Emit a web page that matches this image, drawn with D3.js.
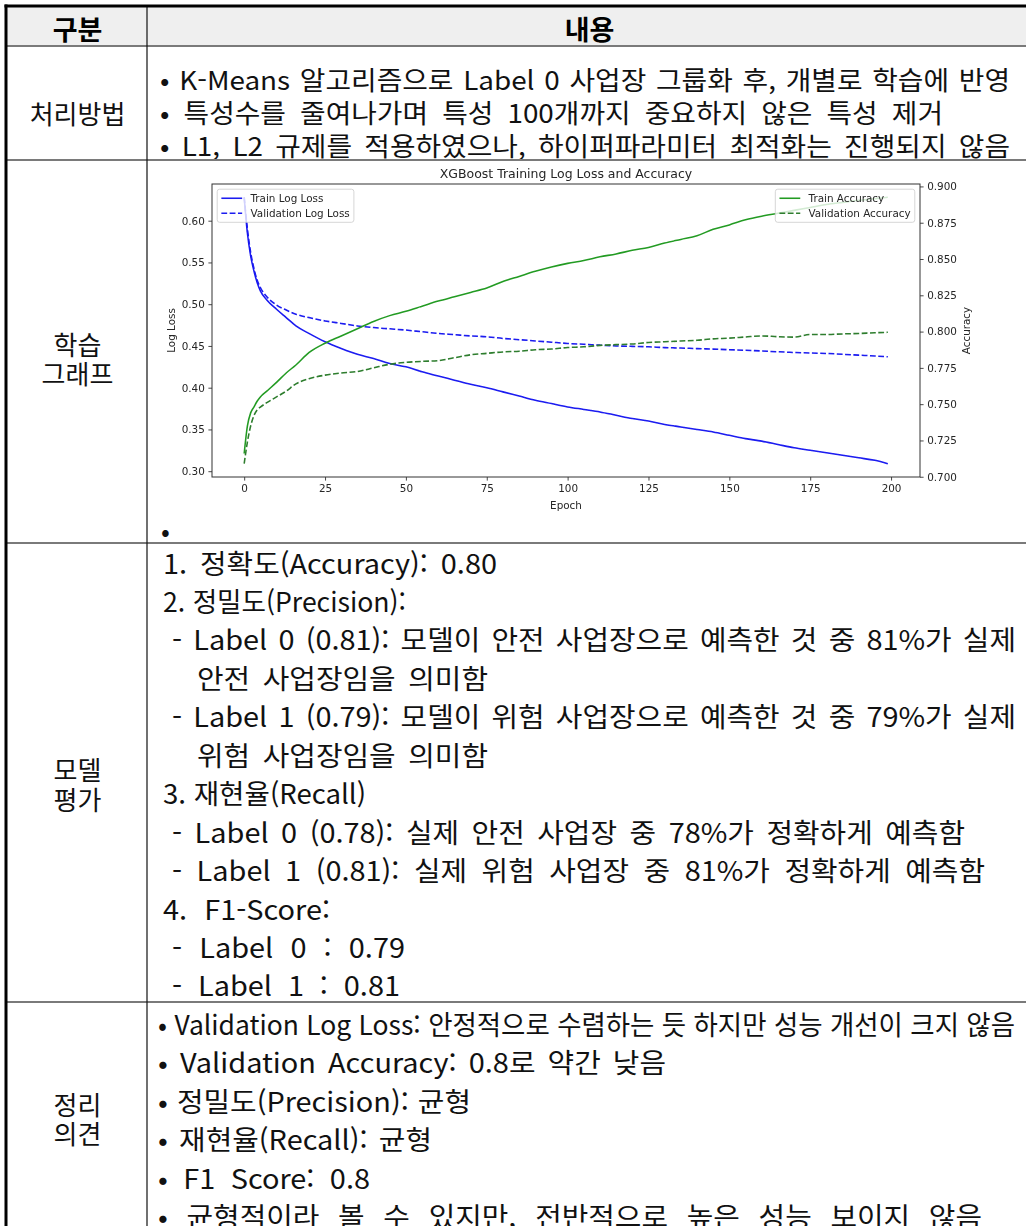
<!DOCTYPE html>
<html lang="ko">
<head>
<meta charset="utf-8">
<title>XGBoost 모델 결과 정리</title>
<script src="https://cdn.jsdelivr.net/npm/d3@7"></script>
<style>
  html, body { margin: 0; padding: 0; background: #ffffff; }
  svg { display: block; }
</style>
</head>
<body>
<svg id="page" width="1026" height="1226"></svg>
<script>
// ---------- chart data: XGBoost training history ----------
const epochs = [0, 1, 2, 3, 4, 5, 7, 10, 13, 16,
  20, 25, 30, 35, 40, 45, 50, 55, 60, 65, 70, 75, 80, 85, 90, 95, 100,
  105, 110, 115, 120, 125, 130, 135, 140, 145, 150, 155, 160, 165, 170,
  175, 180, 185, 190, 195, 199];

const trainLogLoss = [0.628, 0.585, 0.558, 0.540, 0.526, 0.516, 0.505, 0.494, 0.484, 0.474,
  0.465, 0.455, 0.447, 0.440, 0.435, 0.429, 0.425, 0.419, 0.414, 0.409, 0.404, 0.400, 0.395, 0.390, 0.385, 0.381, 0.377,
  0.374, 0.371, 0.367, 0.363, 0.360, 0.356, 0.353, 0.350, 0.347, 0.343, 0.339, 0.336, 0.332, 0.328,
  0.325, 0.322, 0.319, 0.316, 0.313, 0.309];

const valLogLoss = [0.628, 0.590, 0.562, 0.543, 0.529, 0.520, 0.509, 0.499, 0.493, 0.488,
  0.484, 0.480, 0.477, 0.474, 0.472, 0.4705, 0.469, 0.467, 0.465, 0.4635, 0.462, 0.461, 0.459, 0.4575, 0.456, 0.4545, 0.453,
  0.452, 0.451, 0.450, 0.4495, 0.449, 0.448, 0.4475, 0.4468, 0.4462, 0.4455, 0.4448, 0.444, 0.443, 0.4422,
  0.4415, 0.441, 0.440, 0.439, 0.438, 0.437];

const trainAccuracy = [0.716, 0.735, 0.744, 0.748, 0.752, 0.755, 0.759, 0.765, 0.7715, 0.777,
  0.7855, 0.792, 0.797, 0.802, 0.807, 0.811, 0.814, 0.8175, 0.821, 0.824, 0.827, 0.830, 0.8345, 0.838, 0.8415, 0.8445, 0.847,
  0.849, 0.8515, 0.8535, 0.856, 0.858, 0.861, 0.8635, 0.866, 0.8705, 0.8735, 0.877, 0.8795, 0.8815, 0.8835,
  0.8855, 0.8875, 0.889, 0.8905, 0.8915, 0.8925];

const valAccuracy = [0.709, 0.724, 0.735, 0.742, 0.746, 0.748, 0.751, 0.755, 0.759, 0.764,
  0.7675, 0.770, 0.7715, 0.7725, 0.775, 0.7775, 0.7788, 0.7795, 0.780, 0.782, 0.784, 0.785, 0.786, 0.7865, 0.7875, 0.788, 0.789,
  0.7895, 0.7905, 0.791, 0.7915, 0.7925, 0.793, 0.7935, 0.794, 0.795, 0.7955, 0.7963, 0.797, 0.7965, 0.7962,
  0.798, 0.798, 0.7984, 0.7987, 0.7992, 0.7995];

const epochTicks = [0, 25, 50, 75, 100, 125, 150, 175, 200];
const lossTicks = [0.30, 0.35, 0.40, 0.45, 0.50, 0.55, 0.60];
const accTicks = [0.700, 0.725, 0.750, 0.775, 0.800, 0.825, 0.850, 0.875, 0.900];

const chartTitle = "XGBoost Training Log Loss and Accuracy";
const lossSeriesNames = ["Train Log Loss", "Validation Log Loss"];
const accSeriesNames = ["Train Accuracy", "Validation Accuracy"];

// ---------- table text ----------
const headerLabels = ["구분", "내용"];
const rowLabels = [["처리방법"], ["학습", "그래프"], ["모델", "평가"], ["정리", "의견"]];

const processLines = [
  "• K-Means 알고리즘으로 Label 0 사업장 그룹화 후, 개별로 학습에 반영",
  "• 특성수를 줄여나가며 특성 100개까지 중요하지 않은 특성 제거",
  "• L1, L2 규제를 적용하였으나, 하이퍼파라미터 최적화는 진행되지 않음"
];

const evalLines = [
  "1. 정확도(Accuracy): 0.80",
  "2. 정밀도(Precision):",
  "- Label 0 (0.81): 모델이 안전 사업장으로 예측한 것 중 81%가 실제",
  "안전 사업장임을 의미함",
  "- Label 1 (0.79): 모델이 위험 사업장으로 예측한 것 중 79%가 실제",
  "위험 사업장임을 의미함",
  "3. 재현율(Recall)",
  "- Label 0 (0.78): 실제 안전 사업장 중 78%가 정확하게 예측함",
  "- Label 1 (0.81): 실제 위험 사업장 중 81%가 정확하게 예측함",
  "4. F1-Score:",
  "- Label 0 : 0.79",
  "- Label 1 : 0.81"
];

const summaryLines = [
  "• Validation Log Loss: 안정적으로 수렴하는 듯 하지만 성능 개선이 크지 않음",
  "• Validation Accuracy: 0.8로 약간 낮음",
  "• 정밀도(Precision): 균형",
  "• 재현율(Recall): 균형",
  "• F1 Score: 0.8",
  "• 균형적이라 볼 수 있지만, 전반적으로 높은 성능 보이지 않음"
];

// ---------- page layout ----------
const W = 1026, H = 1226;
const FONT_KR = "'Noto Sans CJK KR', 'Noto Sans', sans-serif";
const FONT_MPL = "'DejaVu Sans', sans-serif";

const frame = { left: 6, top: 6, colX: 147, right: 1040 };
const rowY = [6, 46, 160, 543, 1002];          // top of header, rows 1..4
const labelCx = (frame.left + frame.colX) / 2 + 1;
const contentCx = (frame.colX + frame.right) / 2;

// line placement inside the content column
const processLayout = { x: 160, y0: 78, dy: 33.3, size: 26, right: [1010, 943, 1010] };
const evalLayout = {
  y0: 562, dy: 38.45, size: 27,
  x: [163, 163, 172, 197, 172, 197, 163, 172, 172, 163, 172, 172],
  right: [497, 406, 1016, 488, 1016, 488, 366, 965, 985, 330, 405, 400]
};
const summaryLayout = { x: 158, y0: 1023, dy: 38.5, size: 27, right: [1015, 666, 471, 432, 370, 982] };
const labelLayout = [
  { y: 112, dy: 0 },
  { y: 343, dy: 29 },
  { y: 768, dy: 30 },
  { y: 1103, dy: 29 }
];

const svg = d3.select("#page");
svg.append("rect").attr("width", W).attr("height", H).attr("fill", "#ffffff");

// header background
svg.append("rect")
  .attr("x", frame.left).attr("y", rowY[0])
  .attr("width", W - frame.left).attr("height", rowY[1] - rowY[0])
  .attr("fill", "#efefef");

// fit a line between x and right: modest glyph widening, the rest taken up by word gaps
function fitLine(textSel, x, right, size) {
  const node = textSel.node();
  const natural = node.getComputedTextLength();
  const target = right - x;
  const gaps = (textSel.text().match(/ /g) || []).length;
  const glyphStretch = Math.min(target / natural, 1.07);
  if (gaps > 0 && target / natural > glyphStretch) {
    const ws = Math.min((target / glyphStretch - natural) / gaps, 0.45 * size);
    textSel.style("word-spacing", ws.toFixed(2) + "px");
  }
  textSel.attr("textLength", target).attr("lengthAdjust", "spacingAndGlyphs");
}

function addLine(g, str, x, y, size, right) {
  const t = g.append("text")
    .attr("x", x).attr("y", y)
    .attr("dominant-baseline", "central")
    .style("font-family", FONT_KR)
    .style("font-size", size + "px")
    .attr("fill", "#111")
    .text(str);
  if (right) fitLine(t, x, right, size);
  return t;
}

const textLayer = svg.append("g");

// header
textLayer.append("text").attr("x", labelCx).attr("y", 28)
  .attr("text-anchor", "middle").attr("dominant-baseline", "central")
  .style("font-family", FONT_KR).style("font-size", "27px").style("font-weight", 700)
  .attr("fill", "#000").text(headerLabels[0]);
textLayer.append("text").attr("x", contentCx - 4).attr("y", 28)
  .attr("text-anchor", "middle").attr("dominant-baseline", "central")
  .style("font-family", FONT_KR).style("font-size", "27px").style("font-weight", 700)
  .attr("fill", "#000").text(headerLabels[1]);

// row labels in the first column (stacked words share one text element)
rowLabels.forEach((parts, i) => {
  const t = textLayer.append("text")
    .attr("text-anchor", "middle")
    .style("font-family", FONT_KR).style("font-size", "26px")
    .attr("fill", "#111");
  parts.forEach((p, j) => {
    t.append("tspan")
      .attr("x", labelCx).attr("y", labelLayout[i].y + j * labelLayout[i].dy)
      .attr("dominant-baseline", "central")
      .text(p);
  });
});

// row 1: processing method
processLines.forEach((s, i) => {
  addLine(textLayer, s, processLayout.x, processLayout.y0 + i * processLayout.dy,
    processLayout.size, processLayout.right[i]);
});

// row 3: model evaluation
evalLines.forEach((s, i) => {
  addLine(textLayer, s, evalLayout.x[i], evalLayout.y0 + i * evalLayout.dy,
    evalLayout.size, evalLayout.right[i]);
});

// row 4: summary
summaryLines.forEach((s, i) => {
  addLine(textLayer, s, summaryLayout.x, summaryLayout.y0 + i * summaryLayout.dy,
    summaryLayout.size, summaryLayout.right[i]);
});

// lone bullet under the chart
addLine(textLayer, "•", 161, 529, 26, null);

// ---------- chart: training curves ----------
const defs = svg.append("defs");
defs.append("filter").attr("id", "soft")
  .attr("x", "-2%").attr("y", "-2%").attr("width", "104%").attr("height", "104%")
  .append("feGaussianBlur").attr("stdDeviation", 0.45);
defs.append("clipPath").attr("id", "plotClip")
  .append("rect").attr("x", 212).attr("y", 184).attr("width", 708).attr("height", 293);

const chart = svg.append("g").attr("filter", "url(#soft)");
const plot = { left: 212, right: 920, top: 184, bottom: 477 };
const FS = 10.4;           // base text size of the figure
const LW = 1.56;           // series line width
const dashPattern = "5.8,2.5";
const blue = "#1a1af0";
const greenSolid = "#249b24";
const greenDash = "#2d7d2d";
const ink = "#262626";

// data limits padded by 5% on each side
function padded(ext) {
  const m = (ext[1] - ext[0]) * 0.05;
  return [ext[0] - m, ext[1] + m];
}
const x = d3.scaleLinear().domain(padded(d3.extent(epochs))).range([plot.left, plot.right]);
const yLoss = d3.scaleLinear()
  .domain(padded(d3.extent(trainLogLoss.concat(valLogLoss))))
  .range([plot.bottom, plot.top]);
const yAcc = d3.scaleLinear()
  .domain(padded(d3.extent(trainAccuracy.concat(valAccuracy))))
  .range([plot.bottom, plot.top]);

function seriesPath(values, yScale) {
  return d3.line()
    .x((d, i) => x(epochs[i]))
    .y(d => yScale(d))
    .curve(d3.curveMonotoneX)(values);
}

const lines = chart.append("g").attr("clip-path", "url(#plotClip)");

// loss curves (left axis)
lines.append("path").attr("d", seriesPath(trainLogLoss, yLoss))
  .attr("fill", "none").attr("stroke", blue).attr("stroke-width", LW);
lines.append("path").attr("d", seriesPath(valLogLoss, yLoss))
  .attr("fill", "none").attr("stroke", blue).attr("stroke-width", LW)
  .attr("stroke-dasharray", dashPattern);

// legend builder in the style of the plotting library
function legend(names, colors, dashes, anchor) {
  const g = chart.append("g");
  const pad = 0.4 * FS, handle = 2.0 * FS, gap = 0.8 * FS, rowH = 9.8, rowGap = 0.5 * FS;
  const labels = names.map(n => g.append("text").text(n)
    .style("font-family", FONT_MPL).style("font-size", FS + "px").attr("fill", ink)
    .attr("dominant-baseline", "central"));
  const textW = d3.max(labels, t => t.node().getComputedTextLength());
  const boxW = pad + handle + gap + textW + pad;
  const boxH = pad * 2 + rowH * names.length + rowGap * (names.length - 1);
  const x0 = anchor === "left" ? plot.left + 0.5 * FS : plot.right - 0.5 * FS - boxW;
  const y0 = plot.top + 0.5 * FS;
  g.insert("rect", "text")
    .attr("x", x0).attr("y", y0).attr("width", boxW).attr("height", boxH)
    .attr("rx", 2.5).attr("fill", "#ffffff").attr("fill-opacity", 0.8)
    .attr("stroke", "#cccccc").attr("stroke-opacity", 0.8).attr("stroke-width", 1);
  labels.forEach((t, i) => {
    const cy = y0 + pad + rowH / 2 + i * (rowH + rowGap);
    t.attr("x", x0 + pad + handle + gap).attr("y", cy);
    g.append("line")
      .attr("x1", x0 + pad).attr("x2", x0 + pad + handle)
      .attr("y1", cy).attr("y2", cy)
      .attr("stroke", colors[i]).attr("stroke-width", LW)
      .attr("stroke-dasharray", dashes[i] ? dashPattern : null);
  });
}
legend(lossSeriesNames, [blue, blue], [false, true], "left");

// accuracy curves (right axis, drawn above the loss legend)
const lines2 = chart.append("g").attr("clip-path", "url(#plotClip)");
lines2.append("path").attr("d", seriesPath(trainAccuracy, yAcc))
  .attr("fill", "none").attr("stroke", greenSolid).attr("stroke-width", LW);
lines2.append("path").attr("d", seriesPath(valAccuracy, yAcc))
  .attr("fill", "none").attr("stroke", greenDash).attr("stroke-width", LW)
  .attr("stroke-dasharray", dashPattern);

legend(accSeriesNames, [greenSolid, greenDash], [false, true], "right");

// plot frame
chart.append("rect")
  .attr("x", plot.left).attr("y", plot.top)
  .attr("width", plot.right - plot.left).attr("height", plot.bottom - plot.top)
  .attr("fill", "none").attr("stroke", "#333").attr("stroke-width", 1);

function styleAxis(g) {
  g.select(".domain").remove();
  g.selectAll(".tick line").attr("stroke", "#333").attr("stroke-width", 0.9);
  g.selectAll(".tick text").attr("fill", ink)
    .style("font-family", FONT_MPL).style("font-size", FS + "px");
}

chart.append("g").attr("transform", `translate(0,${plot.bottom})`)
  .call(d3.axisBottom(x).tickValues(epochTicks).tickSize(3.6).tickPadding(3.8)
    .tickFormat(d3.format("d")))
  .call(styleAxis);

chart.append("g").attr("transform", `translate(${plot.left},0)`)
  .call(d3.axisLeft(yLoss).tickValues(lossTicks).tickSize(3.6).tickPadding(3.6)
    .tickFormat(d3.format(".2f")))
  .call(styleAxis);

chart.append("g").attr("transform", `translate(${plot.right},0)`)
  .call(d3.axisRight(yAcc).tickValues(accTicks).tickSize(3.6).tickPadding(3.6)
    .tickFormat(d3.format(".3f")))
  .call(styleAxis);

// titles and axis labels
chart.append("text").attr("x", (plot.left + plot.right) / 2).attr("y", plot.top - 6.2)
  .attr("text-anchor", "middle")
  .style("font-family", FONT_MPL).style("font-size", (FS * 1.2) + "px")
  .attr("fill", ink).text(chartTitle);

chart.append("text").attr("x", (plot.left + plot.right) / 2).attr("y", 505)
  .attr("text-anchor", "middle").attr("dominant-baseline", "central")
  .style("font-family", FONT_MPL).style("font-size", FS + "px")
  .attr("fill", ink).text("Epoch");

chart.append("text")
  .attr("transform", `translate(171,${(plot.top + plot.bottom) / 2}) rotate(-90)`)
  .attr("text-anchor", "middle").attr("dominant-baseline", "central")
  .style("font-family", FONT_MPL).style("font-size", FS + "px")
  .attr("fill", ink).text("Log Loss");

chart.append("text")
  .attr("transform", `translate(966,${(plot.top + plot.bottom) / 2}) rotate(-90)`)
  .attr("text-anchor", "middle").attr("dominant-baseline", "central")
  .style("font-family", FONT_MPL).style("font-size", FS + "px")
  .attr("fill", ink).text("Accuracy");

// ---------- table rules (drawn last so they sit on top) ----------
const rules = svg.append("g");
// thin grey row separators
[rowY[1], rowY[2], rowY[3], rowY[4]].forEach(y => {
  rules.append("line")
    .attr("x1", frame.left).attr("x2", W)
    .attr("y1", y).attr("y2", y)
    .attr("stroke", "#7a7a7a").attr("stroke-width", 2);
});
// column divider
rules.append("line")
  .attr("x1", frame.colX).attr("x2", frame.colX)
  .attr("y1", frame.top).attr("y2", H)
  .attr("stroke", "#111").attr("stroke-width", 1.2);
// heavy outer frame
rules.append("line")
  .attr("x1", frame.left - 1.5).attr("x2", W)
  .attr("y1", frame.top).attr("y2", frame.top)
  .attr("stroke", "#000").attr("stroke-width", 3);
rules.append("line")
  .attr("x1", frame.left).attr("x2", frame.left)
  .attr("y1", frame.top - 1.5).attr("y2", H)
  .attr("stroke", "#000").attr("stroke-width", 3);
</script>
</body>
</html>
